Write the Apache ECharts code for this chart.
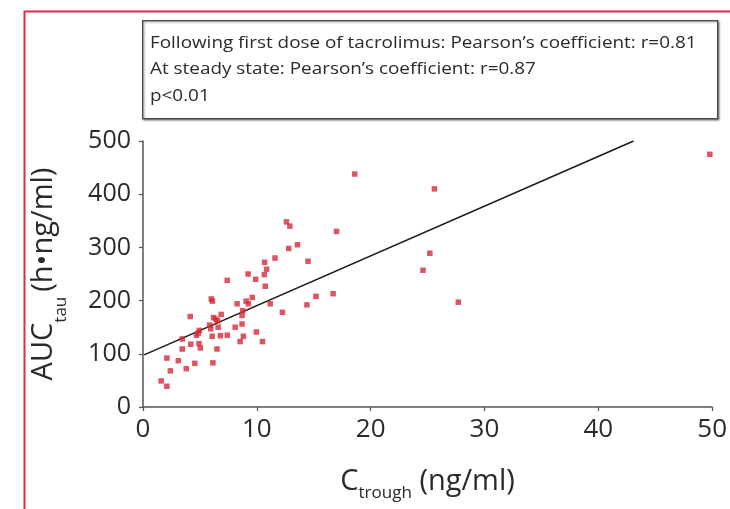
<!DOCTYPE html>
<html>
<head>
<meta charset="utf-8">
<script src="https://cdn.jsdelivr.net/npm/echarts@6/dist/echarts.min.js"></script>
<style>
  html, body { margin: 0; padding: 0; background: #fff; }
  #chart { width: 730px; height: 509px; }
</style>
</head>
<body>
<div id="chart"></div>
<script>
// C trough (ng/ml) 与 AUC tau 的散点
const troughX = [1.6, 2.1, 2.1, 2.4, 3.1, 3.8, 3.45, 3.45, 4.15, 4.2, 4.55, 4.7, 4.86, 4.95, 5.04, 4.92,
  5.85, 6.0, 6.1, 5.95, 6.14, 6.08, 6.2, 6.4, 6.5, 6.6, 6.55, 6.8, 6.87, 7.4, 7.4, 8.1, 8.27, 8.53, 8.7,
  8.76, 8.7, 8.82, 9.06, 9.23, 9.26, 9.6, 9.9, 9.96, 10.5, 10.66, 10.68, 10.86, 10.74, 11.18, 11.6, 12.25,
  12.6, 12.9, 12.8, 13.57, 14.4, 14.5, 15.2, 16.7, 17.0, 18.6, 24.6, 25.2, 25.6, 27.7, 49.8];
const aucY = [49, 39, 92, 68, 87, 72, 109, 128, 170, 118, 82, 135, 139, 144, 111, 119,
  154, 203, 199, 147, 83, 133, 168, 165, 109, 150, 162, 134, 174, 238, 135, 150, 194, 123, 156,
  181, 172, 133, 199, 250, 194, 206, 240, 141, 123, 249, 272, 259, 227, 194, 280, 178,
  348, 340, 298, 305, 192, 274, 208, 213, 330, 438, 257, 289, 410, 197, 475];

// 回归线两端
const fitX = [0.1, 43.1];
const fitY = [98, 500];

const xTicks = [0, 10, 20, 30, 40, 50];
const yTicks = [0, 100, 200, 300, 400, 500];

const noteLines = [
  'Following first dose of tacrolimus: Pearson\u2019s coefficient: r=0.81',
  'At steady state: Pearson\u2019s coefficient: r=0.87',
  'p<0.01'
];

const FONT = '"Open Sans", "DejaVu Sans", sans-serif';
const chart = echarts.init(document.getElementById('chart'));

const axisCommon = {
  splitLine: { show: false },
  axisLine: { lineStyle: { color: '#555', width: 1.5 } },
  axisTick: { inside: false, length: 4, lineStyle: { color: '#555', width: 1.2 } },
  nameLocation: 'middle'
};

chart.setOption({
  animation: false,
  backgroundColor: '#fff',
  grid: { left: 143, right: 13, top: 141, bottom: 102 },
  xAxis: Object.assign({}, axisCommon, {
    type: 'value', min: xTicks[0], max: xTicks[xTicks.length - 1], interval: 10,
    axisLabel: { color: '#2a2a2a', fontSize: 26, fontFamily: FONT, margin: 10 },
    name: '{m|C}{s|trough}{m| (ng/ml)}',
    nameGap: 60,
    nameTextStyle: {
      rich: {
        m: { fontSize: 29, fontFamily: FONT, color: '#2a2a2a', lineHeight: 32, verticalAlign: 'top' },
        s: { fontSize: 17, fontFamily: FONT, color: '#2a2a2a', lineHeight: 19, verticalAlign: 'top', padding: [18, 0, 0, 0] }
      }
    }
  }),
  yAxis: Object.assign({}, axisCommon, {
    type: 'value', min: yTicks[0], max: yTicks[yTicks.length - 1], interval: 100,
    axisLabel: { color: '#2a2a2a', fontSize: 25, fontFamily: FONT, margin: 12 },
    name: '{m|AUC}{s|tau}{p|(h\u2022ng/ml)}',
    nameGap: 81,
    nameTextStyle: {
      rich: {
        m: { fontSize: 29, fontFamily: FONT, color: '#2a2a2a', lineHeight: 33, verticalAlign: 'top' },
        p: { fontSize: 29, fontFamily: FONT, color: '#2a2a2a', lineHeight: 33, verticalAlign: 'top', padding: [0, 0, 0, 5] },
        s: { fontSize: 17, fontFamily: FONT, color: '#2a2a2a', lineHeight: 18, verticalAlign: 'top', padding: [24, 0, 0, 0] }
      }
    }
  }),
  series: [
    {
      type: 'scatter',
      symbol: 'rect',
      symbolSize: 5.5,
      itemStyle: { color: '#d42a3a' },
      data: troughX.map((x, i) => [x, aucY[i]]),
      z: 3
    },
    {
      type: 'line',
      data: fitX.map((x, i) => [x, fitY[i]]),
      showSymbol: false,
      lineStyle: { color: '#1a1a1a', width: 1.6 },
      z: 2
    }
  ],
  graphic: [
    // 外框（红色）
    { type: 'rect', left: 22, top: 9, shape: { width: 800, height: 600 },
      style: { fill: 'none', stroke: '#dc2c4c', lineWidth: 2 }, silent: true },
    // 注释框
    { type: 'rect', left: 142, top: 20, shape: { width: 575, height: 98 },
      style: { fill: '#fff', stroke: '#4a4a4a', lineWidth: 1.3,
        shadowBlur: 2, shadowOffsetX: 1, shadowOffsetY: 1, shadowColor: 'rgba(0,0,0,0.45)' } }
  ].concat(noteLines.map((t, i) => ({
    type: 'text', x: 150, y: 43 + i * 26.5, scaleX: 1.18,
    style: { text: t, fontSize: 16, fontFamily: FONT, fill: '#2a2a2a', verticalAlign: 'middle' }
  })))
});

window.addEventListener('resize', () => chart.resize());
</script>
</body>
</html>
